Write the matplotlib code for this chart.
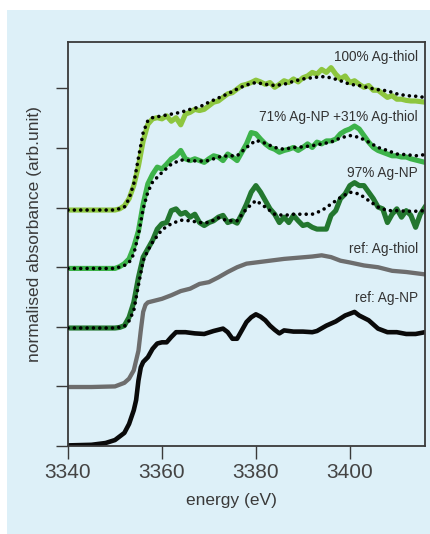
import matplotlib
matplotlib.use("Agg")
import matplotlib.pyplot as plt
from matplotlib.patches import Rectangle

# ---------------- data ----------------
# ref: Ag-NP (black)
agnp_x = [3340, 3345, 3348, 3350, 3352, 3353, 3354, 3354.5, 3355, 3355.5, 3356, 3357, 3358, 3359, 3360,
          3361, 3362, 3363, 3365, 3367, 3369, 3371, 3373, 3374, 3375, 3376, 3377, 3378, 3379, 3380,
          3381, 3382, 3383, 3384, 3385, 3386, 3388, 3390, 3392, 3393, 3395, 3397, 3399, 3400, 3401,
          3402, 3404, 3406, 3408, 3410, 3412, 3414, 3416]
agnp_y = [0.01, 0.02, 0.05, 0.10, 0.22, 0.37, 0.60, 0.77, 1.10, 1.32, 1.41, 1.49, 1.63, 1.72, 1.74,
          1.74, 1.83, 1.91, 1.91, 1.89, 1.88, 1.93, 1.97, 1.91, 1.80, 1.80, 1.94, 2.08, 2.16, 2.21,
          2.17, 2.11, 2.02, 1.95, 1.89, 1.94, 1.92, 1.92, 1.91, 1.93, 2.02, 2.09, 2.19, 2.22, 2.25,
          2.19, 2.11, 1.97, 1.91, 1.91, 1.88, 1.88, 1.91]

# ref: Ag-thiol (grey)
agth_x = [3340, 3345, 3350, 3352, 3353, 3354, 3355, 3355.5, 3356, 3356.5, 3357, 3358, 3360, 3362,
          3364, 3366, 3368, 3370, 3372, 3374, 3376, 3378, 3380, 3383, 3386, 3389, 3392, 3394, 3396,
          3398, 3400, 3403, 3406, 3409, 3412, 3416]
agth_y = [0.99, 0.99, 1.00, 1.06, 1.13, 1.27, 1.60, 1.94, 2.25, 2.37, 2.41, 2.43, 2.47, 2.53,
          2.60, 2.64, 2.72, 2.75, 2.83, 2.92, 3.00, 3.06, 3.08, 3.11, 3.14, 3.16, 3.18, 3.20, 3.17,
          3.11, 3.08, 3.03, 3.00, 2.94, 2.92, 2.88]

# regular grid used for the measured sample spectra
grid = [3340, 3345, 3350, 3351, 3352, 3353, 3354, 3355, 3356, 3357, 3358, 3359, 3360, 3361, 3362,
        3363, 3364, 3365, 3366, 3367, 3368, 3369, 3370, 3371, 3372, 3373, 3374, 3375, 3376, 3377,
        3378, 3379, 3380, 3381, 3382, 3383, 3384, 3385, 3386, 3387, 3388, 3389, 3390, 3391, 3392,
        3393, 3394, 3395, 3396, 3397, 3398, 3399, 3400, 3401, 3402, 3403, 3404, 3405, 3406, 3407,
        3408, 3409, 3410, 3411, 3412, 3413, 3414, 3415, 3416]

# 97% Ag-NP (dark green, measured)
s97_y = [1.98, 1.98, 1.98, 1.99, 2.02, 2.16, 2.41, 2.83, 3.17, 3.31, 3.45, 3.64, 3.73, 3.75, 3.95,
         3.98, 3.89, 3.92, 3.84, 3.89, 3.75, 3.70, 3.75, 3.78, 3.84, 3.87, 3.75, 3.78, 3.74, 3.89,
         4.06, 4.26, 4.37, 4.26, 4.12, 3.98, 3.89, 3.75, 3.84, 3.75, 3.87, 3.78, 3.70, 3.72, 3.67,
         3.64, 3.64, 3.64, 3.87, 3.95, 4.15, 4.23, 4.37, 4.42, 4.37, 4.37, 4.26, 4.15, 4.01, 3.98,
         3.75, 3.89, 3.98, 3.84, 3.95, 3.87, 3.67, 3.89, 4.01]

# 71% Ag-NP + 31% Ag-thiol (medium green, measured)
s71_y = [2.98, 2.98, 2.98, 3.01, 3.06, 3.14, 3.34, 3.61, 4.06, 4.40, 4.56, 4.68, 4.65, 4.73, 4.82,
         4.87, 4.96, 4.82, 4.79, 4.82, 4.79, 4.76, 4.82, 4.87, 4.85, 4.79, 4.90, 4.85, 4.79, 4.93,
         5.07, 5.26, 5.24, 5.15, 5.07, 5.01, 4.98, 4.93, 4.96, 4.98, 5.01, 4.96, 5.01, 5.07, 5.01,
         5.10, 5.07, 5.12, 5.12, 5.15, 5.24, 5.29, 5.32, 5.37, 5.32, 5.21, 5.10, 5.01, 4.96, 4.93,
         4.90, 4.87, 4.87, 4.85, 4.85, 4.82, 4.80, 4.78, 4.76]

# 100% Ag-thiol (light green, measured)
s100_y = [3.96, 3.96, 3.96, 3.98, 4.03, 4.15, 4.37, 4.70, 5.12, 5.40, 5.49, 5.51, 5.49, 5.54, 5.45,
          5.51, 5.39, 5.57, 5.60, 5.65, 5.63, 5.65, 5.71, 5.77, 5.79, 5.85, 5.91, 5.93, 5.99, 6.05,
          6.07, 6.10, 6.14, 6.11, 6.07, 6.10, 6.02, 6.07, 6.13, 6.10, 6.16, 6.11, 6.18, 6.21, 6.27,
          6.24, 6.32, 6.27, 6.35, 6.24, 6.16, 6.21, 6.10, 6.13, 6.07, 6.02, 6.05, 5.97, 5.97, 5.91,
          5.85, 5.88, 5.82, 5.82, 5.80, 5.79, 5.79, 5.78, 5.77]

# linear-combination fits (dotted)
fit_x = [3340, 3345, 3350, 3352, 3353, 3354, 3355, 3356, 3357, 3358, 3360, 3362, 3364, 3366, 3368,
         3370, 3372, 3374, 3376, 3378, 3380, 3382, 3384, 3386, 3388, 3390, 3392, 3394, 3396, 3398,
         3400, 3402, 3404, 3406, 3408, 3410, 3412, 3414, 3416]
fit97_y = [1.98, 1.98, 1.98, 2.01, 2.10, 2.27, 2.70, 3.11, 3.28, 3.42, 3.63, 3.73, 3.79, 3.78, 3.75,
           3.75, 3.83, 3.78, 3.78, 3.98, 4.12, 4.01, 3.89, 3.87, 3.89, 3.89, 3.89, 3.95, 4.06, 4.17,
           4.26, 4.23, 4.12, 4.01, 3.95, 3.95, 3.94, 3.94, 3.95]
fit71_y = [2.98, 2.98, 2.98, 3.03, 3.08, 3.22, 3.55, 3.98, 4.26, 4.43, 4.59, 4.73, 4.80, 4.79, 4.78,
           4.79, 4.85, 4.87, 4.87, 5.01, 5.13, 5.08, 5.01, 4.98, 5.01, 5.02, 5.04, 5.07, 5.10, 5.17,
           5.21, 5.18, 5.10, 5.01, 4.96, 4.90, 4.89, 4.87, 4.89]
fit100_y = [3.96, 3.96, 3.96, 4.01, 4.15, 4.40, 4.84, 5.26, 5.46, 5.51, 5.54, 5.57, 5.60, 5.65, 5.69,
            5.77, 5.84, 5.91, 5.99, 6.06, 6.10, 6.07, 6.05, 6.07, 6.12, 6.16, 6.18, 6.20, 6.18, 6.13,
            6.07, 6.05, 6.01, 5.98, 5.96, 5.91, 5.88, 5.87, 5.85]

labels = ["100% Ag-thiol", "71% Ag-NP +31% Ag-thiol", "97% Ag-NP", "ref: Ag-thiol", "ref: Ag-NP"]
label_y = [6.53, 5.52, 4.58, 3.30, 2.49]
x_ticks = [3340, 3360, 3380, 3400]
y_ticks = [0, 1, 2, 3, 4, 5, 6]

# ---------------- figure ----------------
W, H = 430, 534
fig = plt.figure(figsize=(W / 100, H / 100), dpi=100)
fig.patch.set_facecolor("white")
fig.patches.append(Rectangle((7 / W, 0), 1 - 7 / W, (H - 10) / H, transform=fig.transFigure,
                             facecolor="#ddf0f8", edgecolor="none", zorder=-10))

ax = fig.add_axes([68 / W, (H - 446) / H, (425 - 68) / W, (446 - 42) / H])
ax.set_facecolor("none")
ax.set_zorder(5)

glw = 3.7
dot = dict(color="black", lw=2.6, linestyle=(0, (0.01, 1.75)), dash_capstyle="round", zorder=5)

ax.plot(agnp_x, agnp_y, color="#0a0a0a", lw=3.3, solid_joinstyle="round", solid_capstyle="round")
ax.plot(agth_x, agth_y, color="#6d6d6d", lw=3.1, solid_joinstyle="round", solid_capstyle="round")
ax.plot(grid, s97_y, color="#23772f", lw=glw, solid_joinstyle="round")
ax.plot(fit_x, fit97_y, **dot)
ax.plot(grid, s71_y, color="#3db34a", lw=glw, solid_joinstyle="round")
ax.plot(fit_x, fit71_y, **dot)
ax.plot(grid, s100_y, color="#8dc63f", lw=glw, solid_joinstyle="round")
ax.plot(fit_x, fit100_y, **dot)

ax.set_xlim(3340, 3416)
ax.set_ylim(0, 6.78)
ax.set_xticks(x_ticks)
ax.set_yticks(y_ticks)
ax.set_yticklabels([])
for s in ax.spines.values():
    s.set_color("#3a3a3a")
    s.set_linewidth(1.3)
ax.tick_params(axis="both", direction="out", color="#3a3a3a", width=1.0, length=9)
ax.tick_params(axis="x", labelsize=15, labelcolor="#444444", pad=3)
for t in ax.get_xticklabels():
    t.set_fontfamily(["Liberation Sans", "DejaVu Sans"])

ax.set_xlabel("energy (eV)", fontsize=12.5, color="#3a3a3a",
              family=["Liberation Sans", "DejaVu Sans"])
ax.xaxis.set_label_coords((231 - 68) / (425 - 68), -(500 - 446) / (446 - 42), transform=ax.transAxes)
ax.xaxis.label.set_verticalalignment("center")
ax.set_ylabel("normalised absorbance (arb.unit)", fontsize=12.5, color="#3a3a3a",
              family=["Liberation Sans", "DejaVu Sans"])
ax.yaxis.set_label_coords(-(68 - 35) / (425 - 68), (446 - 234) / (446 - 42), transform=ax.transAxes)
ax.yaxis.label.set_verticalalignment("center")

for txt, yy in zip(labels, label_y):
    ax.text(3414.5, yy, txt, ha="right", va="center", fontsize=9.8, color="#333333",
            family=["Liberation Sans", "DejaVu Sans"])

fig.savefig("out.png", dpi=100, facecolor=fig.get_facecolor())
